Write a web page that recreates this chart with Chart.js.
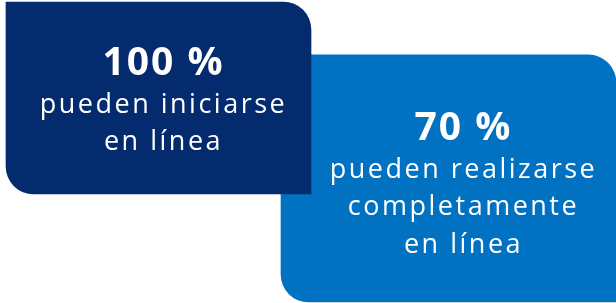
<!DOCTYPE html>
<html>
<head>
<meta charset="utf-8">
<script src="https://cdn.jsdelivr.net/npm/chart.js@4"></script>
<style>
  html, body { margin: 0; padding: 0; background: #ffffff; }
  #wrap { width: 616px; height: 303px; }
</style>
</head>
<body>
<div id="wrap"><canvas id="myChart" width="616" height="303"></canvas></div>
<script>
// Data
const categories = ['Iniciar en línea', 'Realizar completamente en línea'];
const percentValues = [100, 70];
const captionLines = [
  ['pueden iniciarse', 'en línea'],
  ['pueden realizarse', 'completamente', 'en línea']
];
const boxColors = ['#042B6D', '#0172C1'];

// Draw the percentage + caption inside each box
const boxText = {
  id: 'boxText',
  afterDatasetsDraw(chart, args, opts) {
    const ctx = chart.ctx;
    ctx.save();
    ctx.fillStyle = '#ffffff';
    ctx.textAlign = 'center';
    ctx.textBaseline = 'alphabetic';
    chart.data.datasets.forEach((ds, i) => {
      const bar = chart.getDatasetMeta(i).data[i];
      const cx = bar.x + opts.shiftX[i];
      const cy = (bar.y + bar.base) / 2 + opts.shiftY[i];
      const lines = [percentValues[i] + ' %'].concat(captionLines[i]);
      let y = cy - (lines.length - 1) * opts.lineHeight / 2;
      lines.forEach((txt, k) => {
        ctx.font = k === 0 ? opts.boldFont : opts.font;
        ctx.letterSpacing = k === 0 ? opts.boldSpacing : opts.spacing;
        ctx.fillText(txt, cx, y);
        y += opts.lineHeight;
      });
    });
    ctx.restore();
  }
};

const ctx = document.getElementById('myChart').getContext('2d');
new Chart(ctx, {
  type: 'bar',
  data: {
    labels: categories,
    datasets: [
      {
        data: [percentValues[0], null],
        backgroundColor: boxColors[0],
        barThickness: 305,
        yAxisID: 'y1'
      },
      {
        data: [null, percentValues[1]],
        backgroundColor: boxColors[1],
        barThickness: 335,
        yAxisID: 'y2'
      }
    ]
  },
  options: {
    responsive: false,
    animation: false,
    layout: { padding: { left: 13.5, right: 22.5, top: 2, bottom: 1 } },
    datasets: {
      bar: {
        grouped: false,
        clip: false,
        borderWidth: 0,
        borderSkipped: false,
        borderRadius: { topLeft: 0, topRight: 28, bottomLeft: 28, bottomRight: 0 }
      }
    },
    scales: {
      x: { display: false, offset: true },
      y1: { display: false, min: -56.25, max: 100 },
      y2: { display: false, min: 0, max: 85 }
    },
    plugins: {
      legend: { display: false },
      tooltip: { enabled: false },
      boxText: {
        shiftX: [5, 15],
        shiftY: [14.5, 18],
        lineHeight: 37.7,
        boldFont: 'bold 39px "Open Sans"',
        boldSpacing: '2px',
        font: '27px "Open Sans"',
        spacing: '2.5px'
      }
    }
  },
  plugins: [boxText]
});
</script>
</body>
</html>
